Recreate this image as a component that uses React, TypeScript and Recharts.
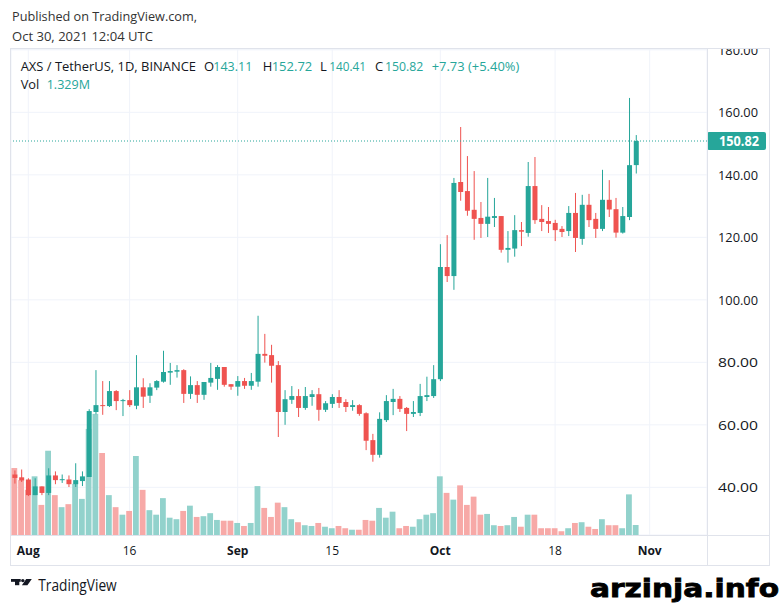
import React from "react";
import { ComposedChart, Bar, XAxis, YAxis, CartesianGrid, ReferenceLine } from "recharts";

// AXS/USDT daily candles, Jul 30 – Oct 30 2021
const open = [
  44.1, 43.2, 42.5, 37.5, 40.3, 38.2, 43.8, 42.3, 42.5, 41.0,
  42.0, 43.3, 64.1, 66.3, 66.0, 70.8, 67.6, 67.9, 66.1, 72.0,
  69.3, 71.9, 73.8, 76.7, 77.0, 77.5, 69.9, 72.7, 69.6, 73.5,
  74.7, 78.5, 73.0, 72.2, 74.0, 72.5, 73.8, 82.7, 82.3, 79.1,
  64.1, 68.0, 69.2, 65.4, 68.9, 69.8, 64.8, 66.7, 68.9, 67.3,
  65.7, 66.3, 63.7, 55.1, 50.4, 61.5, 67.3, 68.3, 65.4, 63.5,
  63.8, 68.9, 69.2, 74.6, 110.5, 107.6, 137.7, 134.8, 128.8, 126.2,
  124.3, 126.2, 126.8, 116.0, 116.4, 122.3, 121.4, 136.4, 125.9, 125.2,
  124.6, 122.7, 122.0, 127.8, 119.5, 130.4, 125.9, 122.7, 132.0, 129.0,
  121.5, 126.5, 143.11,
];
const high = [
  45.4, 45.7, 42.9, 42.9, 40.3, 46.1, 45.1, 44.1, 43.8, 47.7,
  45.1, 65.0, 77.5, 74.0, 74.0, 71.1, 68.3, 71.1, 82.3, 74.9,
  73.3, 74.3, 83.7, 79.8, 79.1, 77.8, 75.5, 74.0, 73.7, 79.8,
  79.1, 78.5, 73.0, 75.6, 75.0, 76.6, 94.9, 89.1, 85.6, 80.4,
  71.1, 72.4, 71.4, 72.1, 71.1, 71.8, 67.6, 69.8, 71.1, 68.2,
  67.9, 66.6, 64.0, 57.1, 64.0, 69.5, 71.5, 69.2, 65.7, 67.6,
  73.1, 75.4, 79.1, 117.8, 120.7, 139.0, 155.3, 146.0, 141.2, 131.3,
  139.0, 132.6, 126.8, 122.0, 127.1, 124.9, 144.1, 145.7, 130.3, 129.7,
  125.6, 123.6, 130.0, 134.2, 133.6, 133.9, 127.8, 141.6, 138.3, 132.6,
  129.7, 164.6, 152.72,
];
const low = [
  41.2, 41.7, 37.2, 37.5, 37.5, 37.5, 41.0, 41.4, 40.1, 40.1,
  40.4, 43.3, 63.4, 63.2, 65.7, 64.7, 62.8, 65.7, 65.0, 65.4,
  67.0, 71.1, 73.5, 72.8, 75.1, 67.0, 68.3, 67.0, 68.0, 72.2,
  71.2, 72.2, 71.2, 69.3, 71.5, 71.2, 72.2, 79.9, 73.5, 56.1,
  60.0, 66.7, 62.5, 64.8, 66.1, 61.3, 64.1, 65.4, 65.4, 64.1,
  64.5, 62.9, 51.9, 48.2, 49.5, 60.9, 63.1, 64.1, 58.0, 62.5,
  62.8, 67.6, 68.6, 74.0, 105.7, 103.2, 131.7, 126.9, 119.2, 119.8,
  120.1, 123.3, 115.1, 111.9, 113.8, 117.2, 120.2, 124.3, 122.0, 121.4,
  118.8, 120.1, 120.4, 115.3, 117.6, 123.3, 119.8, 122.0, 126.5, 119.9,
  121.2, 125.5, 140.41,
];
const close = [
  43.0, 42.2, 37.5, 40.3, 38.2, 43.8, 42.3, 42.6, 41.0, 42.3,
  43.5, 64.4, 66.3, 66.0, 70.8, 67.6, 67.9, 66.3, 72.0, 69.0,
  72.0, 74.0, 76.9, 77.2, 77.5, 69.9, 72.7, 69.6, 73.7, 75.0,
  78.5, 72.8, 72.2, 74.0, 72.5, 74.0, 82.7, 82.1, 78.9, 64.1,
  68.2, 69.2, 65.4, 69.2, 69.8, 64.8, 66.9, 68.9, 67.0, 65.7,
  66.3, 63.5, 54.9, 50.4, 61.9, 67.6, 68.3, 65.1, 63.5, 64.1,
  69.2, 69.5, 74.6, 110.5, 107.6, 137.4, 134.5, 128.5, 125.9, 124.3,
  126.6, 126.8, 116.0, 116.6, 122.3, 121.8, 136.4, 125.5, 124.9, 124.3,
  122.3, 121.7, 127.8, 119.8, 130.4, 125.5, 122.7, 132.0, 128.9, 121.5,
  126.8, 143.09, 150.82,
];
// volume in millions of AXS
const volume = [
  8.9, 7.3, 6.0, 7.8, 4.0, 11.2, 5.3, 3.7, 4.1, 6.8,
  4.8, 14.1, 16.1, 10.9, 5.3, 3.7, 2.7, 3.2, 10.5, 6.0,
  3.3, 2.7, 4.9, 2.3, 2.1, 3.2, 3.9, 2.4, 2.5, 2.9,
  2.0, 1.9, 1.9, 1.6, 1.2, 1.6, 6.5, 3.6, 2.4, 4.3,
  3.7, 2.1, 1.7, 1.3, 1.2, 1.6, 1.1, 0.9, 1.2, 0.9,
  0.7, 0.7, 2.0, 1.9, 3.6, 2.3, 3.1, 0.9, 1.2, 1.1,
  2.1, 2.7, 2.9, 7.8, 5.6, 4.7, 6.6, 4.0, 5.1, 2.7,
  2.8, 1.3, 1.2, 1.3, 2.4, 1.1, 2.7, 2.7, 0.9, 0.9,
  0.9, 0.5, 0.9, 1.6, 1.7, 1.1, 0.8, 2.1, 1.3, 1.3,
  0.9, 5.4, 1.329,
];

// day offsets from Aug 1 (first candle is Jul 30)
const firstDayOffset = -2;
const timeTicks = [0, 15, 31, 45, 61, 78, 92];
const timeLabels = ["Aug", "16", "Sep", "15", "Oct", "18", "Nov"];
const monthTicks = ["Aug", "Sep", "Oct", "Nov"];
const priceTicks = [40, 60, 80, 100, 120, 140, 160, 180];

const TEAL = "#26a69a";
const RED = "#ef5350";
const VOL_UP = "#92d2cc";
const VOL_DOWN = "#f7a9a7";
const INK = "#131722";
const FRAME = "#e0e3eb";
const GRID = "#f0f3fa";
const FONT = "'Open Sans', 'DejaVu Sans', sans-serif";

const CHART_H = 516;
const AXIS_H = 30;

const rows = open.map((o, i) => ({
  d: firstDayOffset + i,
  open: o,
  high: high[i],
  low: low[i],
  close: close[i],
  volume: volume[i],
  up: close[i] >= o,
}));

const last = rows.length - 1;
const change = close[last] - close[last - 1];
const changePct = (change / close[last - 1]) * 100;

function Candle(props: any) {
  const { x, y, width, height, payload } = props;
  if (x == null || payload == null) return null;
  const top = Math.min(y, y + height);
  const bottom = Math.max(y, y + height);
  const span = payload.high - payload.low;
  const k = span > 0 ? (bottom - top) / span : 0;
  const yO = top + (payload.high - payload.open) * k;
  const yC = top + (payload.high - payload.close) * k;
  const color = payload.up ? TEAL : RED;
  const cx = x + width / 2;
  return (
    <g>
      <rect x={cx - 0.5} y={top} width={1} height={Math.max(1, bottom - top)} fill={color} />
      <rect x={x} y={Math.min(yO, yC)} width={width} height={Math.max(1, Math.abs(yO - yC))} fill={color} />
    </g>
  );
}

function VolumeBar(props: any) {
  const { x, y, width, height, payload } = props;
  if (x == null || payload == null) return null;
  return <rect x={x} y={y} width={width} height={Math.max(0, height)} fill={payload.up ? VOL_UP : VOL_DOWN} />;
}

function TimeTick(props: any) {
  const { x, payload } = props;
  const idx = timeTicks.indexOf(payload.value);
  const label = timeLabels[idx];
  // baseline sits 20px under the top of the time-axis strip
  const baseline = CHART_H - AXIS_H + 20;
  return (
    <text x={x} y={baseline} textAnchor="middle" fontSize={12} fontFamily={FONT}
      fontWeight={monthTicks.includes(label) ? 700 : 400} fill={INK}>
      {label}
    </text>
  );
}

function PriceTick(props: any) {
  const { x, y, payload } = props;
  return (
    <text x={x + 11} y={y} dy="0.36em" textAnchor="start" fontSize={13.5} fontFamily={FONT}
      fill={INK} textLength={40} lengthAdjust="spacingAndGlyphs">
      {Number(payload.value).toFixed(2)}
    </text>
  );
}

function PriceTag(props: any) {
  const vb = props.viewBox;
  if (!vb) return null;
  const left = vb.x + vb.width;
  return (
    <g>
      <rect x={left} y={vb.y - 9} width={59} height={18} rx={2} fill={TEAL} />
      <text x={left + 12} y={vb.y} dy="0.36em" fontSize={13.5} fontWeight={700} fontFamily={FONT}
        fill="#ffffff" textLength={40} lengthAdjust="spacingAndGlyphs">
        {close[last].toFixed(2)}
      </text>
    </g>
  );
}

export default function App() {
  return (
    <div style={{ position: "absolute", left: 0, top: 0, width: 781, height: 605, background: "#fff", overflow: "hidden" }}>
      <div style={{ position: "absolute", left: 11, top: 49, width: 758, height: CHART_H, overflow: "hidden" }}>
        <ComposedChart width={758} height={CHART_H} data={rows} margin={{ top: 0, right: 0, bottom: 0, left: 0 }}>
          <CartesianGrid xAxisId="x" yAxisId="p" stroke={GRID} strokeWidth={1} />
          <XAxis xAxisId="x" dataKey="d" type="number" domain={[-2.561, 100.49]} allowDataOverflow
            ticks={timeTicks} interval={0} height={AXIS_H} tickLine={false} axisLine={false}
            tickSize={0} tickMargin={0} tick={<TimeTick />} />
          <XAxis xAxisId="v" dataKey="d" type="number" domain={[-2.561, 100.49]} allowDataOverflow hide />
          <YAxis yAxisId="p" orientation="right" type="number" domain={[24.74, 180.26]} allowDataOverflow
            ticks={priceTicks} interval={0} width={62} tickLine={false} axisLine={false}
            tickSize={0} tickMargin={0} tick={<PriceTick />} />
          <YAxis yAxisId="v" type="number" domain={[0, 64.6]} allowDataOverflow hide />
          <Bar xAxisId="v" yAxisId="v" dataKey="volume" barSize={5.8} shape={<VolumeBar />} isAnimationActive={false} />
          <Bar xAxisId="x" yAxisId="p" dataKey={(r: any) => [r.low, r.high]} barSize={5} shape={<Candle />} isAnimationActive={false} />
          <ReferenceLine xAxisId="x" yAxisId="p" y={close[last]} stroke={TEAL} strokeDasharray="1 2" label={<PriceTag />} />
        </ComposedChart>
      </div>
      <svg width={781} height={605} style={{ position: "absolute", left: 0, top: 0, pointerEvents: "none" }} fontFamily={FONT}>
        {/* pane frame */}
        <g stroke={FRAME} strokeWidth={1} fill="none">
          <rect x={10.5} y={48.5} width={759} height={517} />
          <line x1={707.5} y1={48.5} x2={707.5} y2={565.5} />
          <line x1={10.5} y1={535.5} x2={769.5} y2={535.5} />
        </g>
        {/* publish header */}
        <text x={12} y={20.7} fontSize={12.5} fill="#333" textLength={185} lengthAdjust="spacingAndGlyphs">Published on TradingView.com,</text>
        <text x={12} y={40.5} fontSize={12.5} fill="#333" textLength={141} lengthAdjust="spacingAndGlyphs">Oct 30, 2021 12:04 UTC</text>
        {/* legend */}
        <g fontSize={13}>
          <text x={20.7} y={70.7} fill={INK} textLength={175.3} lengthAdjust="spacingAndGlyphs">AXS / TetherUS, 1D, BINANCE</text>
          <text x={204} y={70.7} fill={INK}>O</text>
          <text x={213.3} y={70.7} fill={TEAL} textLength={39} lengthAdjust="spacingAndGlyphs">{open[last].toFixed(2)}</text>
          <text x={262.7} y={70.7} fill={INK}>H</text>
          <text x={271.7} y={70.7} fill={TEAL} textLength={40.6} lengthAdjust="spacingAndGlyphs">{high[last].toFixed(2)}</text>
          <text x={320} y={70.7} fill={INK}>L</text>
          <text x={329.3} y={70.7} fill={TEAL} textLength={36.7} lengthAdjust="spacingAndGlyphs">{low[last].toFixed(2)}</text>
          <text x={375} y={70.7} fill={INK}>C</text>
          <text x={385} y={70.7} fill={TEAL} textLength={38.3} lengthAdjust="spacingAndGlyphs">{close[last].toFixed(2)}</text>
          <text x={431.7} y={70.7} fill={TEAL} textLength={87.6} lengthAdjust="spacingAndGlyphs">
            {`+${change.toFixed(2)} (+${changePct.toFixed(2)}%)`}
          </text>
          <text x={20.7} y={89.3} fill={INK} textLength={18.6} lengthAdjust="spacingAndGlyphs">Vol</text>
          <text x={46.7} y={89.3} fill={TEAL} textLength={43.3} lengthAdjust="spacingAndGlyphs">{`${volume[last].toFixed(3)}M`}</text>
        </g>
        {/* TradingView logo */}
        <g fill={INK}>
          <rect x={11} y={579} width={9.7} height={2.8} />
          <rect x={15} y={579} width={4.3} height={6.2} />
          <circle cx={22.8} cy={580.6} r={1.7} />
          <polygon points="26.2,579 31.8,579 27.4,585.2 21.9,585.2" />
        </g>
        <text x={38.3} y={591} fontSize={16} fill={INK} textLength={78.4} lengthAdjust="spacingAndGlyphs">TradingView</text>
        <text x={590} y={596.7} fontSize={25} fontWeight={700} fontFamily="'DejaVu Sans', sans-serif" fill="#000"
          stroke="#000" strokeWidth={0.8} textLength={189} lengthAdjust="spacingAndGlyphs">arzinja.info</text>
      </svg>
    </div>
  );
}
